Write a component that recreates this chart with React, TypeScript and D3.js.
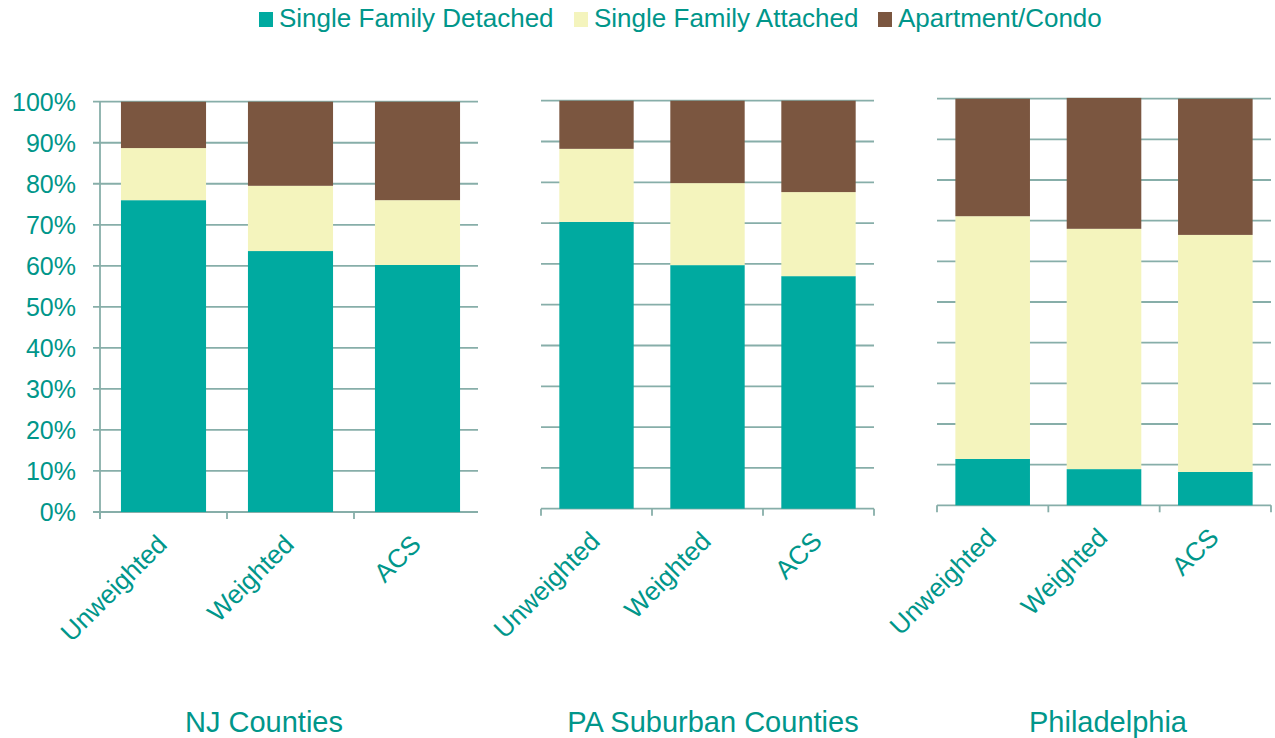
import * as d3 from 'd3';
import React from 'react';

// values, in percent
const categories = ['Unweighted', 'Weighted', 'ACS'];
const regions = ['NJ Counties', 'PA Suburban Counties', 'Philadelphia'];
const seriesNames = ['Single Family Detached', 'Single Family Attached', 'Apartment/Condo'];

const detached = [
  [76.0, 63.6, 60.2],
  [70.3, 59.7, 57.0],
  [11.4, 8.9, 8.2],
];
const attached = [
  [12.7, 15.9, 15.8],
  [17.9, 20.1, 20.6],
  [59.7, 59.1, 58.3],
];
const apartment = [
  [11.3, 20.5, 24.0],
  [11.8, 20.2, 22.4],
  [28.9, 32.2, 33.5],
];
const yTicks = [0, 10, 20, 30, 40, 50, 60, 70, 80, 90, 100];

const W = 1275, H = 738;
const TEXT = '#00968a';
const GRID = '#87aea9';
const colors = ['#00aaa0', '#f4f4bd', '#7b5640'];
const FONT = '"Liberation Sans", Arial, Helvetica, sans-serif';

// panel frames (pixels)
const frames = [
  { x0: 100, x1: 481, top: 101.7, bottom: 512, gridEnd: 478, yAxis: true, titleX: 264 },
  { x0: 541, x1: 874, top: 100.7, bottom: 508.7, gridEnd: 874, yAxis: false, titleX: 713 },
  { x0: 937, x1: 1271, top: 98.7, bottom: 505.3, gridEnd: 1271, yAxis: false, titleX: 1108 },
];

function Panel({ idx }: { idx: number }) {
  const f = frames[idx];
  const rows = categories.map((c, i) => ({
    cat: c,
    s0: detached[idx][i],
    s1: attached[idx][i],
    s2: apartment[idx][i],
  }));
  const stack = d3.stack<any>().keys(['s0', 's1', 's2'])(rows);
  const x = d3.scaleBand().domain(categories).range([f.x0, f.x1]).paddingInner(0.33).paddingOuter(0.165);
  const y = d3.scaleLinear().domain([0, 100]).range([f.bottom, f.top]);
  const step = x.step();
  const tickXs = d3.range(categories.length + 1).map(i => f.x0 + i * step)
    .filter((_, i) => !(f.yAxis && i === categories.length));

  return (
    <g>
      {yTicks.map(t => (
        <line key={t} x1={f.yAxis ? f.x0 - 7 : f.x0} x2={f.gridEnd} y1={y(t)} y2={y(t)} stroke={GRID} strokeWidth={1.8} />
      ))}
      {f.yAxis && <line x1={f.x0} x2={f.x0} y1={f.top} y2={f.bottom + 7} stroke={GRID} strokeWidth={1.8} />}
      {tickXs.map((tx, i) => (
        <line key={i} x1={tx} x2={tx} y1={f.bottom} y2={f.bottom + 7} stroke={GRID} strokeWidth={1.8} />
      ))}
      {f.yAxis && yTicks.map(t => (
        <text key={t} x={76} y={y(t)} dy="0.36em" textAnchor="end" fontSize={25} fill={TEXT}>{t}%</text>
      ))}
      {stack.map((layer, si) => (
        <g key={si} fill={colors[si]}>
          {layer.map((d, i) => (
            <rect key={i} x={x(categories[i])} width={x.bandwidth()} y={y(d[1])} height={y(d[0]) - y(d[1])} />
          ))}
        </g>
      ))}
      {categories.map(c => {
        const cx = (x(c) as number) + x.bandwidth() / 2 + 5;
        const cy = f.bottom + 34;
        return (
          <text key={c} transform={`translate(${cx},${cy}) rotate(-45)`} textAnchor="end" fontSize={26} fill={TEXT}>{c}</text>
        );
      })}
      <text x={f.titleX} y={732} textAnchor="middle" fontSize={29} fill={TEXT}>{regions[idx]}</text>
    </g>
  );
}

const legendX = [259, 574, 878];

export default function App() {
  return (
    <div style={{ position: 'absolute', left: 0, top: 0 }}>
      <svg width={W} height={H} style={{ display: 'block', background: '#fff' }} fontFamily={FONT}>
        {seriesNames.map((s, i) => (
          <g key={s}>
            <rect x={legendX[i]} y={12} width={14} height={15} fill={colors[i]} />
            <text x={legendX[i] + 20} y={27} fontSize={26} fill={TEXT}>{s}</text>
          </g>
        ))}
        {regions.map((_, i) => <Panel key={i} idx={i} />)}
      </svg>
    </div>
  );
}
